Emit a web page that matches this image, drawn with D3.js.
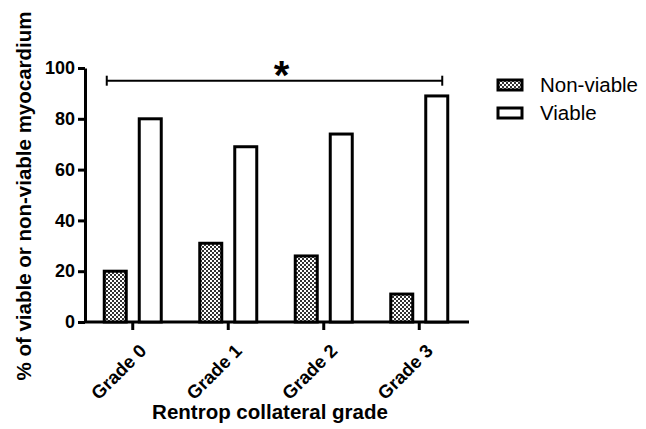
<!DOCTYPE html>
<meta charset="utf-8">
<style>
  body { margin: 0; background: #fff; }
  svg { font-family: "Liberation Sans", Arial, sans-serif; }
  .axis path, .axis line { stroke: #000; stroke-width: 3px; }
  .axis text { font-size: 18px; font-weight: bold; fill: #000; }
  .axis.x text { font-size: 18.5px; }
  .title { font-size: 20.5px; font-weight: bold; }
  .legend text { font-size: 20.5px; }
</style>
<body>
<script src="https://cdn.jsdelivr.net/npm/d3@7"></script>
<script>
  // data
  var grades = ["Grade 0", "Grade 1", "Grade 2", "Grade 3"];
  var nonViable = [20, 31, 26, 11];
  var viable = [80, 69, 74, 89];
  var yTicks = [0, 20, 40, 60, 80, 100];
  var seriesNames = ["Non-viable", "Viable"];
  var sigBar = { from: "Grade 0", to: "Grade 3", level: 95, label: "*" };

  var width = 646, height = 429;

  var svg = d3.select("body").append("svg")
    .attr("width", width)
    .attr("height", height);

  var defs = svg.append("defs");
  var pat = defs.append("pattern")
    .attr("id", "checker")
    .attr("patternUnits", "userSpaceOnUse")
    .attr("width", 4).attr("height", 4);
  pat.append("rect").attr("width", 4).attr("height", 4).attr("fill", "#fff");
  pat.append("rect").attr("width", 2).attr("height", 2).attr("fill", "#333");
  pat.append("rect").attr("x", 2).attr("y", 2).attr("width", 2).attr("height", 2).attr("fill", "#333");

  var x = d3.scaleBand().domain(grades).range([85, 467]);
  var y = d3.scaleLinear().domain([0, 100]).range([322, 68]);

  var barW = 22, offset = 17.5;

  // y axis
  svg.append("g")
    .attr("class", "axis y")
    .attr("transform", "translate(85,0)")
    .call(d3.axisLeft(y).tickValues(yTicks).tickSize(7).tickSizeOuter(0).tickPadding(3));

  // x axis
  var xg = svg.append("g")
    .attr("class", "axis x")
    .attr("transform", "translate(0," + y(0) + ")")
    .call(d3.axisBottom(x).tickSize(8).tickSizeOuter(0));
  xg.select(".domain").attr("d", "M85,0H469");
  xg.selectAll("text")
    .attr("text-anchor", "end")
    .attr("dx", "-0.2em")
    .attr("dy", "0.35em")
    .attr("transform", "translate(5,15) rotate(-45)");

  var series = [
    { name: seriesNames[0], values: nonViable, fill: "url(#checker)", dx: -offset },
    { name: seriesNames[1], values: viable, fill: "#fff", dx: offset }
  ];

  series.forEach(function (s) {
    svg.append("g").selectAll("rect")
      .data(s.values)
      .enter().append("rect")
      .attr("x", function (d, i) { return x(grades[i]) + x.bandwidth() / 2 + s.dx - barW / 2; })
      .attr("y", function (d) { return y(d); })
      .attr("width", barW)
      .attr("height", function (d) { return y(0) - y(d); })
      .attr("fill", s.fill)
      .attr("stroke", "#000")
      .attr("stroke-width", 3);
  });

  // significance bar
  var x1 = x(sigBar.from) + x.bandwidth() / 2 - 26,
    x2 = x(sigBar.to) + x.bandwidth() / 2 + 23,
    yb = y(sigBar.level);
  var sig = svg.append("g").attr("stroke", "#000").attr("stroke-width", 2);
  sig.append("line").attr("x1", x1).attr("x2", x2).attr("y1", yb).attr("y2", yb);
  sig.append("line").attr("x1", x1).attr("x2", x1).attr("y1", yb - 5).attr("y2", yb + 5);
  sig.append("line").attr("x1", x2).attr("x2", x2).attr("y1", yb - 5).attr("y2", yb + 5);
  svg.append("text")
    .attr("x", (x1 + x2) / 2 + 7)
    .attr("y", yb + 8)
    .attr("text-anchor", "middle")
    .attr("font-size", 40)
    .attr("font-weight", "bold")
    .text(sigBar.label);

  // axis titles
  svg.append("text")
    .attr("class", "title")
    .attr("transform", "translate(31,196) rotate(-90)")
    .attr("text-anchor", "middle")
    .text("% of viable or non-viable myocardium");
  svg.append("text")
    .attr("class", "title")
    .attr("x", 270)
    .attr("y", 419)
    .attr("text-anchor", "middle")
    .text("Rentrop collateral grade");

  // legend
  var legend = svg.append("g").attr("class", "legend");
  series.forEach(function (s, i) {
    var ly = 80 + i * 28;
    legend.append("rect")
      .attr("x", 498).attr("y", ly)
      .attr("width", 24).attr("height", 10)
      .attr("fill", s.fill)
      .attr("stroke", "#000")
      .attr("stroke-width", 3);
    legend.append("text")
      .attr("x", 540).attr("y", ly + 12)
      .text(s.name);
  });
</script>
</body>
